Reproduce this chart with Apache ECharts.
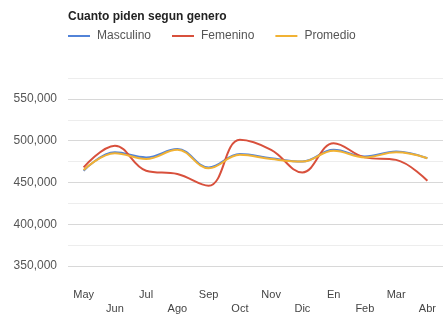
<!DOCTYPE html>
<html>
<head>
<meta charset="utf-8">
<script src="https://cdn.jsdelivr.net/npm/echarts@6/dist/echarts.min.js"></script>
<style>
  html, body { margin: 0; padding: 0; background: #fff; }
  #chart { width: 443px; height: 316px; }
</style>
</head>
<body>
<div id="chart"></div>
<script>
// datos
var meses = ['May', 'Jun', 'Jul', 'Ago', 'Sep', 'Oct', 'Nov', 'Dic', 'En', 'Feb', 'Mar', 'Abr']
var masculino = [464000, 486000, 480000, 490000, 468000, 484000, 479000, 475000, 489000, 481000, 487000, 479000]
var femenino = [468000, 494000, 464000, 460000, 446000, 501000, 489000, 462000, 497000, 480000, 477000, 452000]
var promedio = [465000, 485000, 478000, 489000, 467000, 483000, 478000, 475000, 488000, 480000, 486000, 479000]

var fuente = 'Arial, "Liberation Sans", sans-serif'

function serie(nombre, datos, color) {
  return {
    name: nombre,
    type: 'line',
    data: datos,
    smooth: 0.4,
    showSymbol: false,
    symbol: 'none',
    lineStyle: { width: 2, color: color },
    itemStyle: { color: color }
  }
}

var myChart = echarts.init(document.getElementById('chart'))
myChart.setOption({
  animation: false,
  title: {
    text: 'Cuanto piden segun genero',
    left: 63,
    top: 6,
    textStyle: { fontFamily: fuente, fontSize: 12, fontWeight: 'bold', color: '#222' }
  },
  legend: {
    left: 63,
    top: 25,
    itemWidth: 22,
    itemHeight: 2,
    itemGap: 21,
    icon: 'rect',
    textStyle: { fontFamily: fuente, fontSize: 12, color: '#555', padding: [0, 0, 0, 2] },
    data: ['Masculino', 'Femenino', 'Promedio']
  },
  grid: { left: 68, right: -4, top: 78, bottom: 46 },
  xAxis: {
    type: 'category',
    data: meses,
    boundaryGap: true,
    axisLine: { show: false },
    axisTick: { show: false },
    axisLabel: {
      interval: 0,
      margin: 22,
      lineHeight: 14,
      fontFamily: fuente,
      fontSize: 11,
      color: '#444',
      formatter: function(value, index) {
        return index % 2 === 1 ? '\n' + value : value + '\n'
      }
    }
  },
  yAxis: {
    type: 'value',
    min: 350000,
    max: 575000,
    interval: 25000,
    axisLine: { show: false },
    axisTick: { show: false },
    axisLabel: {
      margin: 11,
      fontFamily: fuente,
      fontSize: 12,
      color: '#555',
      formatter: function(v) {
        if (v % 50000 !== 0 || v > 550000) return ''
        return v.toLocaleString('en-US')
      }
    },
    splitLine: { lineStyle: { color: ['#d8d8d8', '#ededed'], width: 1 } }
  },
  series: [
    serie('Masculino', masculino, '#5283d8'),
    serie('Femenino', femenino, '#d8503c'),
    serie('Promedio', promedio, '#f1b234')
  ]
})
</script>
</body>
</html>
